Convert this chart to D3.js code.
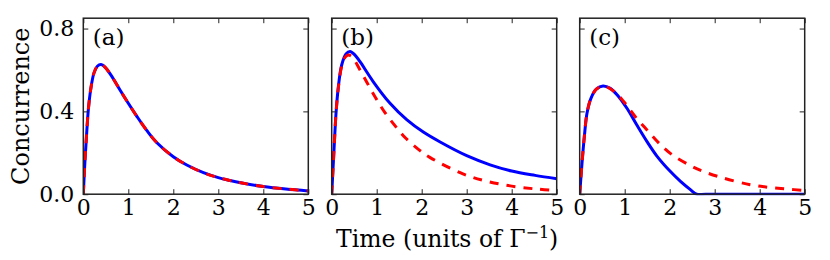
<!DOCTYPE html>
<html>
<head>
<meta charset="utf-8">
<script src="https://cdn.jsdelivr.net/npm/d3@7"></script>
<style>
  body { margin: 0; background: #fff; }
  svg text { font-family: "DejaVu Serif", serif; fill: #000; }
</style>
</head>
<body>
<div id="chart"></div>
<script>
// values (time in units of 1/Gamma, concurrence)
const panelNames = ["(a)", "(b)", "(c)"];
const xTicks = [0, 1, 2, 3, 4, 5];
const yTicks = [0, 0.4, 0.8];
const yTickLabels = ["0.0", "0.4", "0.8"];

// panel (a): both curves lie on top of each other
const tA = [0, 0.038, 0.075, 0.112, 0.164, 0.238, 0.312, 0.393, 0.482, 0.63, 0.816, 1.0, 1.19, 1.41, 1.63, 2.0, 2.3, 2.67, 3.0, 3.26, 3.5, 4.0, 4.5, 5.0];
const blueA = [0, 0.166, 0.295, 0.408, 0.505, 0.586, 0.618, 0.626, 0.614, 0.570, 0.503, 0.439, 0.376, 0.308, 0.250, 0.181, 0.141, 0.104, 0.080, 0.066, 0.055, 0.037, 0.025, 0.016];
const redA = [0, 0.166, 0.295, 0.408, 0.505, 0.586, 0.618, 0.626, 0.614, 0.570, 0.503, 0.439, 0.376, 0.308, 0.250, 0.181, 0.141, 0.104, 0.080, 0.066, 0.055, 0.037, 0.025, 0.016];

// panel (b)
const tB = [0, 0.051, 0.096, 0.148, 0.222, 0.318, 0.407, 0.518, 0.629, 0.925, 1.296, 1.666, 2.036, 2.41, 3.0, 3.52, 4.0, 4.52, 5.0];
const blueB = [0, 0.213, 0.391, 0.519, 0.624, 0.677, 0.689, 0.672, 0.640, 0.543, 0.439, 0.360, 0.300, 0.252, 0.186, 0.142, 0.112, 0.091, 0.075];
const tBr = [0, 0.051, 0.096, 0.148, 0.222, 0.30, 0.37, 0.45, 0.629, 0.962, 1.184, 1.41, 1.63, 1.92, 2.18, 2.93, 3.44, 4.0, 4.55, 5.0];
const redB = [0, 0.213, 0.39, 0.515, 0.618, 0.662, 0.672, 0.664, 0.600, 0.471, 0.394, 0.330, 0.274, 0.218, 0.178, 0.097, 0.063, 0.039, 0.025, 0.017];

// panel (c)
const tC = [0, 0.051, 0.103, 0.162, 0.25, 0.37, 0.518, 0.68, 0.866, 1.05, 1.27, 1.496, 1.72, 2.0, 2.24, 2.46, 2.6, 2.8, 5.0];
const blueC = [0, 0.149, 0.278, 0.391, 0.463, 0.507, 0.523, 0.511, 0.471, 0.415, 0.334, 0.254, 0.183, 0.113, 0.062, 0.022, 0, 0, 0];
const tCr = [0, 0.051, 0.103, 0.162, 0.25, 0.37, 0.53, 0.755, 0.977, 1.236, 1.496, 1.755, 2.05, 2.46, 2.72, 3.16, 3.79, 4.2, 4.6, 5.0];
const redC = [0, 0.149, 0.278, 0.391, 0.463, 0.507, 0.523, 0.498, 0.448, 0.374, 0.310, 0.248, 0.191, 0.138, 0.112, 0.080, 0.046, 0.033, 0.025, 0.018];

const panels = [
  {name: panelNames[0], blue: [tA, blueA], red: [tA, redA]},
  {name: panelNames[1], blue: [tB, blueB], red: [tBr, redB]},
  {name: panelNames[2], blue: [tC, blueC], red: [tCr, redC]}
];

// layout
const W = 830, H = 260;
const lefts = [83.3, 331.7, 579.7];
const pw = 225;
const yBottom = 194.2, yTop = 18.2;

const svg = d3.select("#chart")
  .append("svg")
  .attr("width", W)
  .attr("height", H);

const zip = (ts, vs) => ts.map((t, i) => ({t: t, v: vs[i]}));

panels.forEach(function(p, i) {
  const left = lefts[i];
  const x = d3.scaleLinear().domain([0, 5]).range([left, left + pw]);
  const y = d3.scaleLinear().domain([0, 0.85]).range([yBottom, yTop]);

  const clipId = "clip" + i;
  svg.append("clipPath").attr("id", clipId)
    .append("rect")
    .attr("x", left).attr("y", yTop)
    .attr("width", pw).attr("height", yBottom - yTop + 1);

  const line = d3.line()
    .x(d => x(d.t))
    .y(d => y(d.v))
    .curve(d3.curveCatmullRom.alpha(0.5));

  const g = svg.append("g").attr("clip-path", `url(#${clipId})`);

  g.append("path")
    .datum(zip(p.blue[0], p.blue[1]))
    .attr("d", line)
    .attr("fill", "none")
    .attr("stroke", "#0000ff")
    .attr("stroke-width", 3);

  g.append("path")
    .datum(zip(p.red[0], p.red[1]))
    .attr("d", line)
    .attr("fill", "none")
    .attr("stroke", "#ff0000")
    .attr("stroke-width", 3)
    .attr("stroke-dasharray", "9,8");

  // ticks pointing inwards on all four sides
  const bottom = svg.append("g")
    .attr("transform", `translate(0,${yBottom})`)
    .call(d3.axisBottom(x).tickValues(xTicks).tickSizeInner(-5).tickSizeOuter(0).tickPadding(5).tickFormat(d3.format("d")));
  bottom.selectAll("text").style("font-size", "22px");

  svg.append("g")
    .attr("transform", `translate(0,${yTop})`)
    .call(d3.axisTop(x).tickValues(xTicks).tickSizeInner(-5).tickSizeOuter(0).tickFormat(""));

  const leftAxis = svg.append("g")
    .attr("transform", `translate(${left},0)`)
    .call(d3.axisLeft(y).tickValues(yTicks).tickSizeInner(-5).tickSizeOuter(0).tickPadding(9)
      .tickFormat((d, k) => i === 0 ? yTickLabels[k] : ""));
  leftAxis.selectAll("text").style("font-size", "22px");

  svg.append("g")
    .attr("transform", `translate(${left + pw},0)`)
    .call(d3.axisRight(y).tickValues(yTicks).tickSizeInner(-5).tickSizeOuter(0).tickFormat(""));

  svg.selectAll(".domain").remove();
  svg.selectAll(".tick line").attr("stroke", "#222").attr("stroke-width", 1);

  // frame
  svg.append("rect")
    .attr("x", left).attr("y", yTop)
    .attr("width", pw).attr("height", yBottom - yTop)
    .attr("fill", "none")
    .attr("stroke", "#222")
    .attr("stroke-width", 1.5);

  // panel label
  svg.append("text")
    .attr("x", left + 9.5)
    .attr("y", 44.5)
    .style("font-size", "23px")
    .text(p.name);
});

// axis titles
svg.append("text")
  .attr("transform", `translate(28.5,${(yTop + yBottom) / 2}) rotate(-90)`)
  .attr("text-anchor", "middle")
  .style("font-size", "24px")
  .text("Concurrence");

const xl = svg.append("text")
  .attr("x", lefts[1] + pw / 2 + 3)
  .attr("y", 246.5)
  .attr("text-anchor", "middle")
  .style("font-size", "23.5px");
xl.append("tspan").text("Time (units of \u0393");
xl.append("tspan").attr("dy", -9).style("font-size", "16px").text("\u22121");
xl.append("tspan").attr("dy", 9).text(")");
</script>
</body>
</html>
